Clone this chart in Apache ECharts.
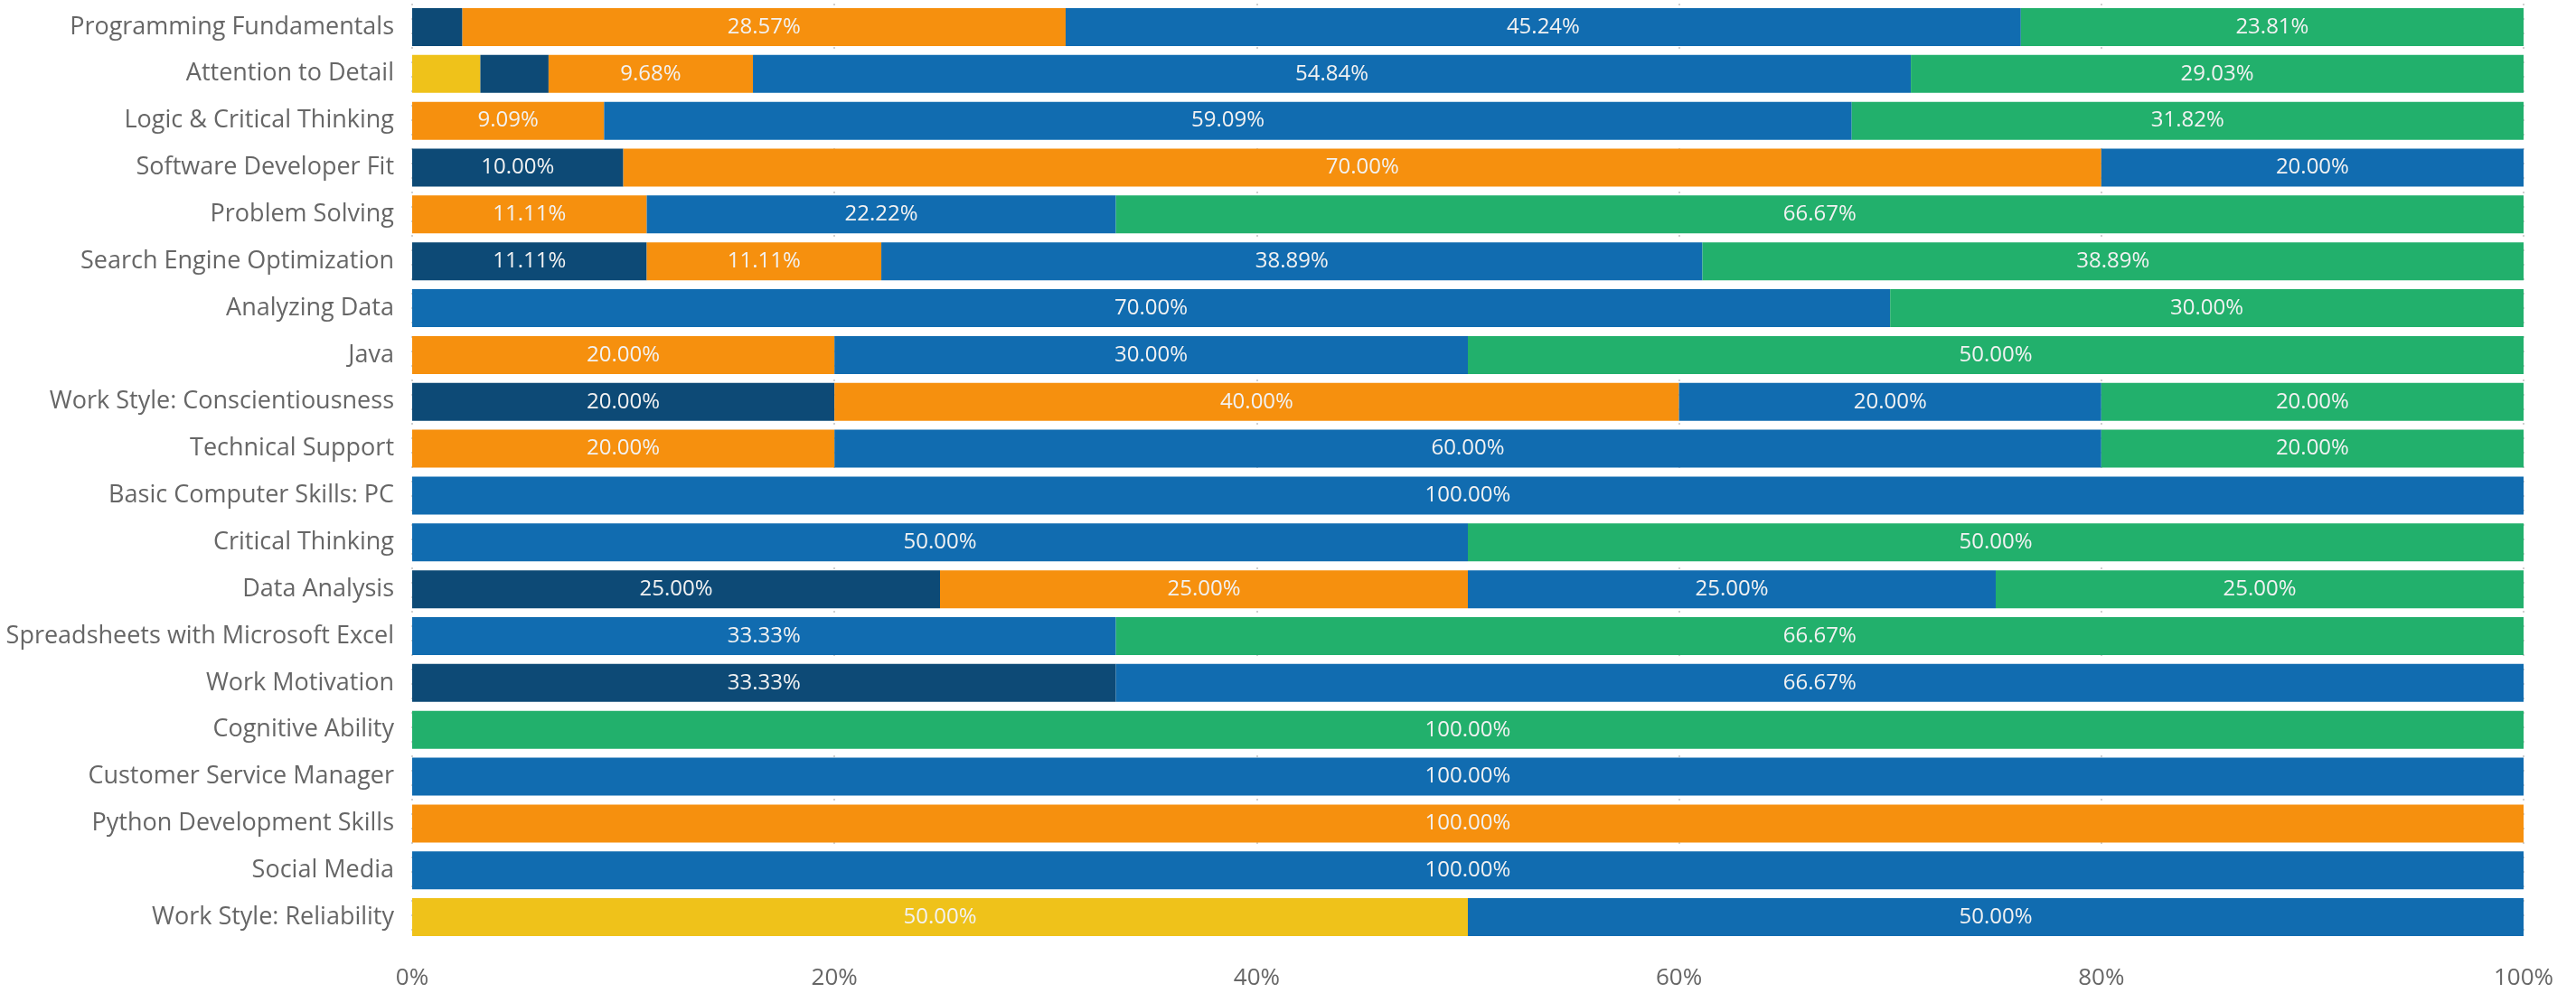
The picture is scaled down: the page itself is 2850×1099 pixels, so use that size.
<!DOCTYPE html>
<html>
<head>
<meta charset="utf-8">
<title>Skill assessment distribution</title>
<script src="https://cdn.jsdelivr.net/npm/echarts@6/dist/echarts.min.js"></script>
<style>
  html, body { margin: 0; padding: 0; background: #ffffff; }
  #chart { width: 2850px; height: 1099px; }
</style>
</head>
<body>
<div id="chart"></div>
<script>
// Skills, top to bottom
const skills = [
  'Programming Fundamentals',
  'Attention to Detail',
  'Logic & Critical Thinking',
  'Software Developer Fit',
  'Problem Solving',
  'Search Engine Optimization',
  'Analyzing Data',
  'Java',
  'Work Style: Conscientiousness',
  'Technical Support',
  'Basic Computer Skills: PC',
  'Critical Thinking',
  'Data Analysis',
  'Spreadsheets with Microsoft Excel',
  'Work Motivation',
  'Cognitive Ability',
  'Customer Service Manager',
  'Python Development Skills',
  'Social Media',
  'Work Style: Reliability'
];

// Share of results per level (percent), stacked left to right
const levelYellow = [0, 3.23, 0, 0, 0, 0, 0, 0, 0, 0, 0, 0, 0, 0, 0, 0, 0, 0, 0, 50];
const levelNavy   = [2.38, 3.23, 0, 10, 0, 11.11, 0, 0, 20, 0, 0, 0, 25, 0, 33.33, 0, 0, 0, 0, 0];
const levelOrange = [28.57, 9.68, 9.09, 70, 11.11, 11.11, 0, 20, 40, 20, 0, 0, 25, 0, 0, 0, 0, 100, 0, 0];
const levelBlue   = [45.24, 54.84, 59.09, 20, 22.22, 38.89, 70, 30, 20, 60, 100, 50, 25, 33.33, 66.67, 0, 100, 0, 100, 50];
const levelGreen  = [23.81, 29.03, 31.82, 0, 66.67, 38.89, 30, 50, 20, 20, 0, 50, 25, 66.67, 0, 100, 0, 0, 0, 0];

const xTicks = [0, 20, 40, 60, 80, 100];

const levels = [
  { name: 'Yellow', data: levelYellow, color: '#EFC21A' },
  { name: 'Navy',   data: levelNavy,   color: '#0D4A76' },
  { name: 'Orange', data: levelOrange, color: '#F6900E' },
  { name: 'Blue',   data: levelBlue,   color: '#116CB0' },
  { name: 'Green',  data: levelGreen,  color: '#22B06C' }
];

const fontFamily = '"Open Sans", "Noto Sans", sans-serif';

const chart = echarts.init(document.getElementById('chart'), null, { renderer: 'canvas' });

chart.setOption({
  backgroundColor: '#ffffff',
  animation: false,
  grid: {
    left: 456, right: 58, top: 4, bottom: 58,
    containLabel: false,
    outerBoundsMode: 'none'
  },
  xAxis: {
    type: 'value',
    min: xTicks[0],
    max: xTicks[xTicks.length - 1],
    interval: xTicks[1] - xTicks[0],
    axisLine: { show: false },
    axisTick: { show: false },
    axisLabel: {
      formatter: v => v + '%',
      color: '#666666',
      fontSize: 26,
      fontFamily: fontFamily,
      margin: 29
    },
    splitLine: {
      show: true,
      lineStyle: { color: '#d0d0d0', type: [2, 14], width: 2 }
    }
  },
  yAxis: {
    type: 'category',
    data: skills,
    inverse: true,
    axisLine: { show: false },
    axisTick: { show: false },
    axisLabel: {
      color: '#666666',
      fontSize: 27,
      fontFamily: fontFamily,
      margin: 20
    },
    splitLine: { show: false }
  },
  series: levels.map(l => ({
    name: l.name,
    type: 'bar',
    stack: 'total',
    barWidth: 42,
    data: l.data,
    itemStyle: { color: l.color },
    label: {
      show: true,
      position: 'inside',
      color: '#f2f2f2',
      fontSize: 24,
      fontFamily: fontFamily,
      formatter: p => (p.value >= 5 ? p.value.toFixed(2) + '%' : '')
    }
  }))
});
</script>
</body>
</html>
